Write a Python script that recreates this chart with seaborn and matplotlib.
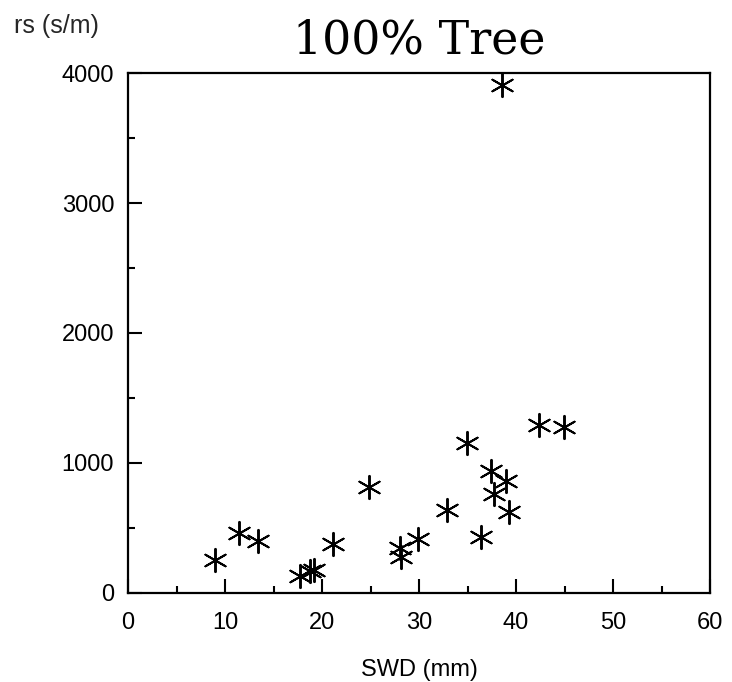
import numpy as np
import pandas as pd
import seaborn as sns
import matplotlib
matplotlib.use("Agg")
import matplotlib.pyplot as plt
from matplotlib.ticker import MultipleLocator

# values
swd = [9.0, 11.4, 13.4, 17.7, 18.8, 19.2, 21.1, 24.8, 28.0, 28.1, 29.9,
       32.9, 34.9, 36.4, 37.4, 37.7, 39.0, 39.3, 42.4, 44.9, 38.6]
rs = [250, 460, 400, 125, 170, 175, 375, 815, 345, 275, 410,
      640, 1155, 430, 940, 760, 860, 620, 1295, 1275, 3910]

x_ticks = [0, 10, 20, 30, 40, 50, 60]
y_ticks = [0, 1000, 2000, 3000, 4000]


def main():
    df = pd.DataFrame({"SWD": swd, "rs": rs})

    sns.set_style("ticks")
    plt.rcParams["font.family"] = ["Liberation Sans", "DejaVu Sans"]

    fig = plt.figure(figsize=(7.32, 6.82), dpi=100)
    ax = fig.add_axes([0.175, 0.131, 0.795, 0.7615])

    sns.scatterplot(x="SWD", y="rs", data=df, ax=ax, marker=(6, 2, 0),
                    s=280, color="black", linewidth=1.4, clip_on=False,
                    zorder=3)

    ax.set_xlim(0, 60)
    ax.set_ylim(0, 4000)
    ax.set_xticks(x_ticks)
    ax.set_yticks(y_ticks)
    ax.xaxis.set_minor_locator(MultipleLocator(5))
    ax.yaxis.set_minor_locator(MultipleLocator(500))
    ax.tick_params(which="both", direction="in", top=False, right=False,
                   width=1.5, color="black", labelsize=17, labelcolor="black")
    ax.tick_params(which="major", length=10)
    ax.tick_params(axis="x", which="major", pad=14)
    ax.tick_params(axis="y", which="major", pad=10)
    ax.tick_params(which="minor", length=5)
    for sp in ax.spines.values():
        sp.set_visible(True)
        sp.set_linewidth(1.6)
        sp.set_color("black")

    ax.set_xlabel("SWD (mm)", fontsize=17, labelpad=18, color="black")
    ax.set_ylabel("")
    fig.text(0.019, 0.962, "rs (s/m)", fontsize=18, ha="left", va="center")
    ax.set_title("100% Tree", fontsize=33, pad=14,
                 family=["DejaVu Serif"], color="black")

    fig.savefig("out.png", dpi=100, facecolor="white")


if __name__ == "__main__":
    main()
